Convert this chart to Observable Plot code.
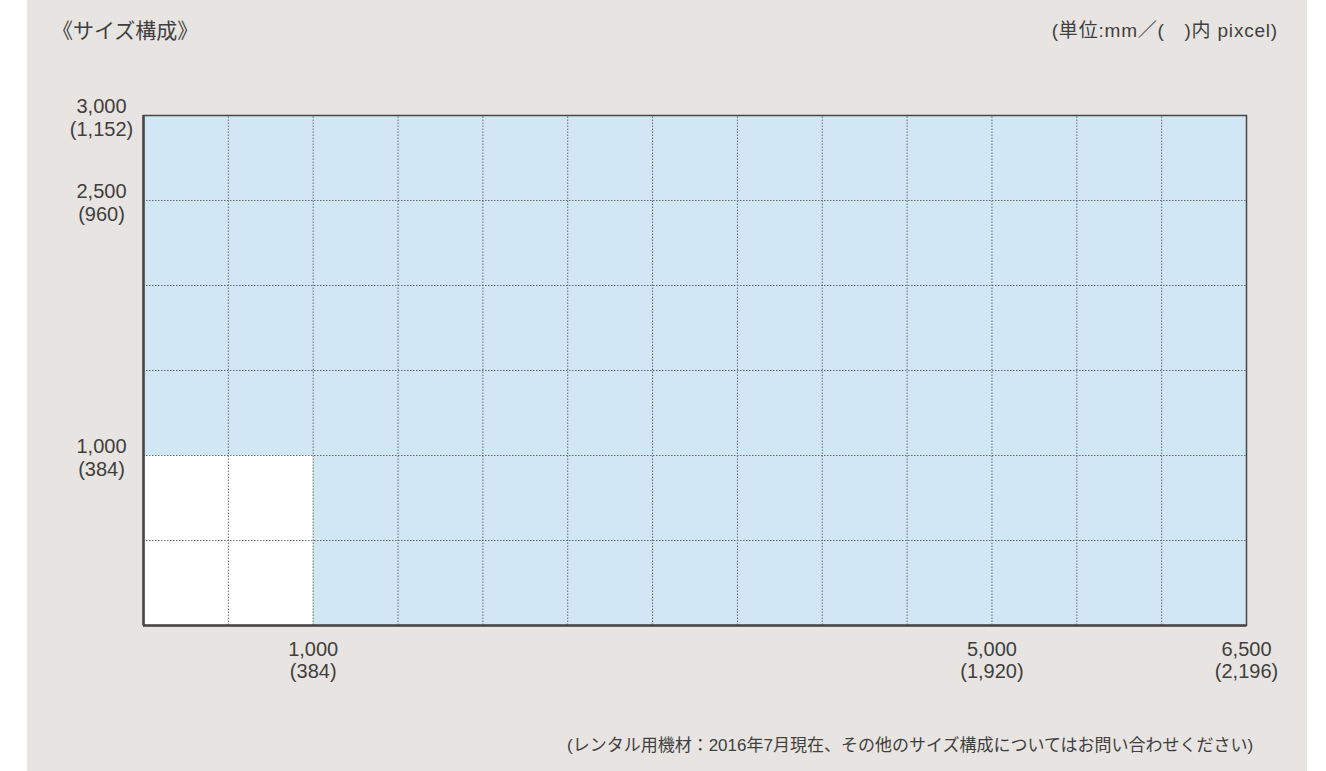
<!DOCTYPE html>
<html><head><meta charset="utf-8">
<script src="https://cdn.jsdelivr.net/npm/d3@7"></script>
<script src="https://cdn.jsdelivr.net/npm/@observablehq/plot@0.6"></script>
<style>
body{margin:0;background:#fff;}
#panel{position:absolute;left:27px;top:0;width:1280px;height:771px;background:#e8e4e1;font-family:"Liberation Sans","Noto Sans CJK JP",sans-serif;color:#3f3f3f;overflow:hidden;}
#title{position:absolute;left:25px;top:19px;font-size:21px;line-height:21px;font-family:"Noto Sans CJK JP",sans-serif;white-space:nowrap;}
#unit{position:absolute;right:29px;top:21px;font-size:19px;line-height:19px;letter-spacing:0.8px;white-space:nowrap;}
#note{position:absolute;left:540px;top:737px;font-size:17px;line-height:17px;white-space:nowrap;}
#chart{position:absolute;left:0;top:80px;}
</style></head>
<body>
<div id="panel">
  <div id="title">《サイズ構成》</div>
  <div id="unit">(単位:mm／(　)内 pixcel)</div>
  <div id="chart"></div>
  <div id="note">(レンタル用機材：2016年7月現在、その他のサイズ構成についてはお問い合わせください)</div>
</div>
<script>
// Full wall size (mm)
const wallWidthMM = 6500;
const wallHeightMM = 3000;
// Unavailable (white) corner block (mm)
const blankWidthMM = 1000;
const blankHeightMM = 1000;
// Panel grid lines (mm)
const gridX = [500, 1000, 1500, 2000, 2500, 3000, 3500, 4000, 4500, 5000, 5500, 6000];
const gridY = [500, 1000, 1500, 2000, 2500];
// Tick labels: mm and pixel
const xTickMM = [1000, 5000, 6500];
const xTickPx = [384, 1920, 2196];
const yTickMM = [1000, 2500, 3000];
const yTickPx = [384, 960, 1152];

const fmt = d3.format(",");
const xTicks = xTickMM.map((mm, i) => ({mm, px: xTickPx[i]}));
const yTicks = yTickMM.map((mm, i) => ({mm, px: yTickPx[i]}));

const textColor = "#3f3f3f";
const chart = Plot.plot({
  width: 1280,
  height: 620,
  marginLeft: 116,
  marginRight: 61,
  marginTop: 35,
  marginBottom: 75,
  x: {domain: [0, wallWidthMM], axis: null},
  y: {domain: [0, wallHeightMM], axis: null},
  style: {background: "transparent", fontFamily: "Liberation Sans, Noto Sans CJK JP, sans-serif", overflow: "visible"},
  marks: [
    Plot.rect([{x1: 0, x2: wallWidthMM, y1: 0, y2: wallHeightMM}], {x1: "x1", x2: "x2", y1: "y1", y2: "y2", fill: "#d1e7f4"}),
    Plot.rect([{x1: 0, x2: blankWidthMM, y1: 0, y2: blankHeightMM}], {x1: "x1", x2: "x2", y1: "y1", y2: "y2", fill: "#ffffff"}),
    Plot.ruleX(gridX, {y1: 0, y2: wallHeightMM, stroke: "#666b72", strokeWidth: 1, strokeDasharray: "1.5,1.5"}),
    Plot.ruleY(gridY, {x1: 0, x2: wallWidthMM, stroke: "#666b72", strokeWidth: 1, strokeDasharray: "1.5,1.5"}),
    Plot.frame({stroke: "#4a4646", strokeWidth: 1.5}),
    Plot.ruleX([0], {y1: 0, y2: wallHeightMM, stroke: "#4a4646", strokeWidth: 2.5}),
    Plot.ruleY([0], {x1: 0, x2: wallWidthMM, stroke: "#4a4646", strokeWidth: 2.5}),
    Plot.text(yTicks, {x: 0, y: "mm", text: d => `${fmt(d.mm)}\n(${fmt(d.px)})`, dx: -42, dy: 2, textAnchor: "middle", lineAnchor: "middle", lineHeight: 1.15, fontSize: 20, fill: textColor}),
    Plot.text(xTicks, {x: "mm", y: 0, text: d => `${fmt(d.mm)}\n(${fmt(d.px)})`, dy: 34, textAnchor: "middle", lineAnchor: "middle", lineHeight: 1.1, fontSize: 20, fill: textColor})
  ]
});
document.getElementById("chart").appendChild(chart);
</script>
</body></html>
